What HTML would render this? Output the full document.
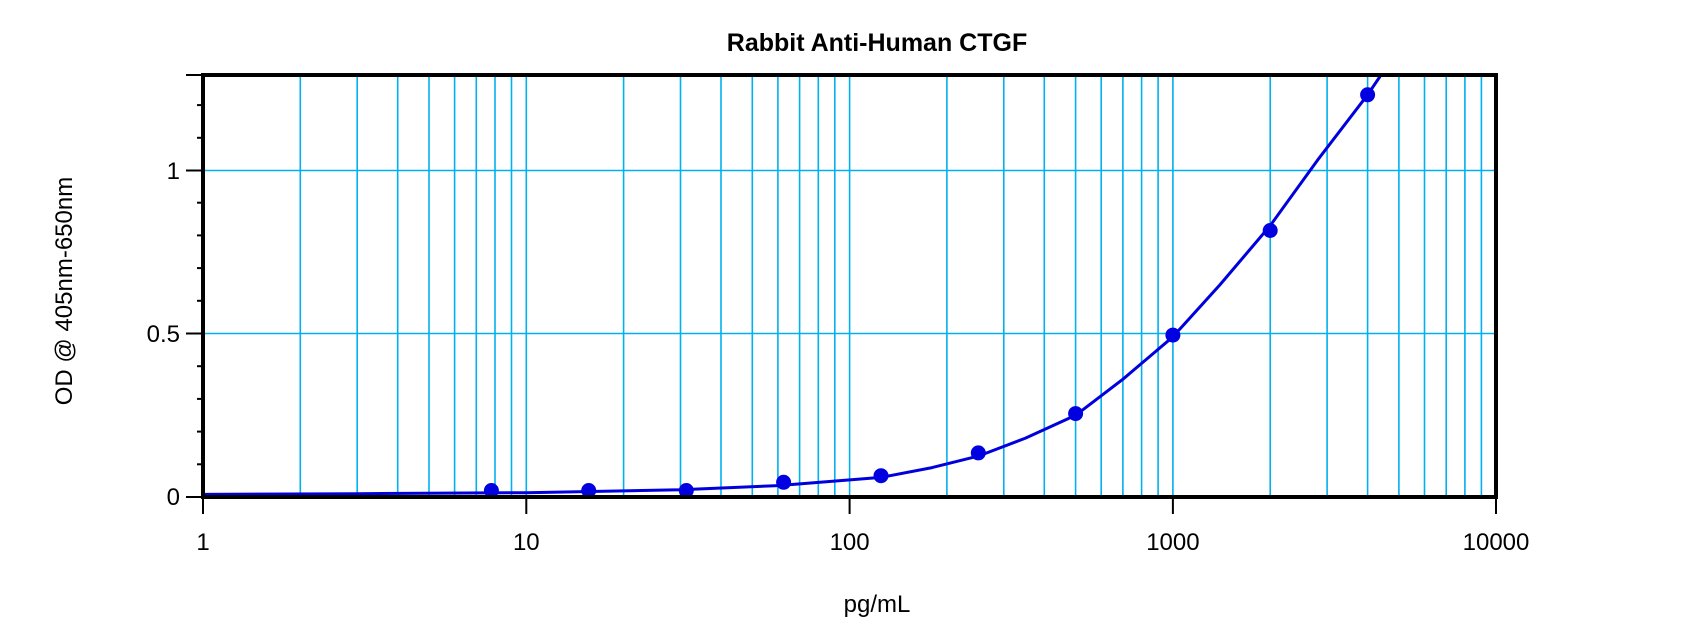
<!DOCTYPE html>
<html><head><style>body{margin:0;background:#fff}svg{display:block}text{font-family:"Liberation Sans",Arial,sans-serif}</style></head><body>
<svg width="1700" height="643" xmlns="http://www.w3.org/2000/svg">
<rect width="1700" height="643" fill="#fff"/>
<g stroke="#00b0f0" stroke-width="1.6">
<line x1="300.3" y1="75" x2="300.3" y2="497"/><line x1="357.2" y1="75" x2="357.2" y2="497"/><line x1="397.7" y1="75" x2="397.7" y2="497"/><line x1="429" y1="75" x2="429" y2="497"/><line x1="454.6" y1="75" x2="454.6" y2="497"/><line x1="476.3" y1="75" x2="476.3" y2="497"/><line x1="495" y1="75" x2="495" y2="497"/><line x1="511.5" y1="75" x2="511.5" y2="497"/><line x1="526.3" y1="75" x2="526.3" y2="497"/>
<line x1="623.6" y1="75" x2="623.6" y2="497"/><line x1="680.5" y1="75" x2="680.5" y2="497"/><line x1="721" y1="75" x2="721" y2="497"/><line x1="752.3" y1="75" x2="752.3" y2="497"/><line x1="777.9" y1="75" x2="777.9" y2="497"/><line x1="799.6" y1="75" x2="799.6" y2="497"/><line x1="818.3" y1="75" x2="818.3" y2="497"/><line x1="834.8" y1="75" x2="834.8" y2="497"/><line x1="849.6" y1="75" x2="849.6" y2="497"/>
<line x1="946.9" y1="75" x2="946.9" y2="497"/><line x1="1003.8" y1="75" x2="1003.8" y2="497"/><line x1="1044.3" y1="75" x2="1044.3" y2="497"/><line x1="1075.6" y1="75" x2="1075.6" y2="497"/><line x1="1101.2" y1="75" x2="1101.2" y2="497"/><line x1="1122.9" y1="75" x2="1122.9" y2="497"/><line x1="1141.6" y1="75" x2="1141.6" y2="497"/><line x1="1158.1" y1="75" x2="1158.1" y2="497"/><line x1="1172.9" y1="75" x2="1172.9" y2="497"/>
<line x1="1270.2" y1="75" x2="1270.2" y2="497"/><line x1="1327.1" y1="75" x2="1327.1" y2="497"/><line x1="1367.6" y1="75" x2="1367.6" y2="497"/><line x1="1398.9" y1="75" x2="1398.9" y2="497"/><line x1="1424.5" y1="75" x2="1424.5" y2="497"/><line x1="1446.2" y1="75" x2="1446.2" y2="497"/><line x1="1464.9" y1="75" x2="1464.9" y2="497"/><line x1="1481.4" y1="75" x2="1481.4" y2="497"/>
<line x1="203" y1="170.5" x2="1496" y2="170.5"/><line x1="203" y1="333.5" x2="1496" y2="333.5"/>
</g>
<g stroke="#000" stroke-width="2">
<line x1="186" y1="497" x2="203" y2="497"/><line x1="186" y1="333.5" x2="203" y2="333.5"/><line x1="186" y1="170.5" x2="203" y2="170.5"/>
<line x1="197" y1="464.3" x2="203" y2="464.3"/><line x1="197" y1="431.6" x2="203" y2="431.6"/><line x1="197" y1="398.9" x2="203" y2="398.9"/><line x1="197" y1="366.2" x2="203" y2="366.2"/>
<line x1="197" y1="300.8" x2="203" y2="300.8"/><line x1="197" y1="268.1" x2="203" y2="268.1"/><line x1="197" y1="235.4" x2="203" y2="235.4"/><line x1="197" y1="202.7" x2="203" y2="202.7"/>
<line x1="197" y1="137.8" x2="203" y2="137.8"/><line x1="197" y1="105.1" x2="203" y2="105.1"/><line x1="186" y1="75" x2="203" y2="75"/>
<line x1="203" y1="497" x2="203" y2="514"/><line x1="526.3" y1="497" x2="526.3" y2="514"/><line x1="849.6" y1="497" x2="849.6" y2="514"/><line x1="1172.9" y1="497" x2="1172.9" y2="514"/><line x1="1496" y1="497" x2="1496" y2="514"/>
</g>
<path d="M203,494.4 L357.2,493.7 L526.3,492.7 L680.5,489.8 L777.9,485.6 L881,477.4 L932.1,467.6 L978.3,456.1 L1025.5,438.1 L1075.6,415.3 L1122.8,379.3 L1172.9,336.8 L1220.2,284.5 L1270.2,225.6 L1317.5,160.2 L1367.6,94.8 L1381,75" fill="none" stroke="#0000dd" stroke-width="3" stroke-linejoin="round"/>
<g fill="#0000e0">
<circle cx="491.4" cy="490.5" r="7.5"/><circle cx="588.7" cy="490.5" r="7.5"/><circle cx="686.3" cy="490.5" r="7.5"/><circle cx="783.6" cy="482.3" r="7.5"/><circle cx="881" cy="475.7" r="7.5"/><circle cx="978.3" cy="452.9" r="7.5"/><circle cx="1075.6" cy="413.6" r="7.5"/><circle cx="1172.9" cy="335.1" r="7.5"/><circle cx="1270.2" cy="230.5" r="7.5"/><circle cx="1367.6" cy="94.8" r="7.5"/>
</g>
<path d="M203,75 L1496,75 L1496,497 L203,497 Z" fill="none" stroke="#000" stroke-width="4"/>
<g font-size="24" fill="#000" text-anchor="end">
<text x="180" y="505">0</text><text x="180" y="342">0.5</text><text x="180" y="179">1</text>
</g>
<g font-size="24" fill="#000" text-anchor="middle">
<text x="203" y="550">1</text><text x="526.3" y="550">10</text><text x="849.6" y="550">100</text><text x="1172.9" y="550">1000</text><text x="1496" y="550">10000</text>
<text x="877" y="612">pg/mL</text>
<text x="0" y="0" transform="translate(72,291) rotate(-90)">OD @ 405nm-650nm</text>
</g>
<text x="877" y="51" font-size="25" font-weight="bold" text-anchor="middle">Rabbit Anti-Human CTGF</text>
</svg>
</body></html>
